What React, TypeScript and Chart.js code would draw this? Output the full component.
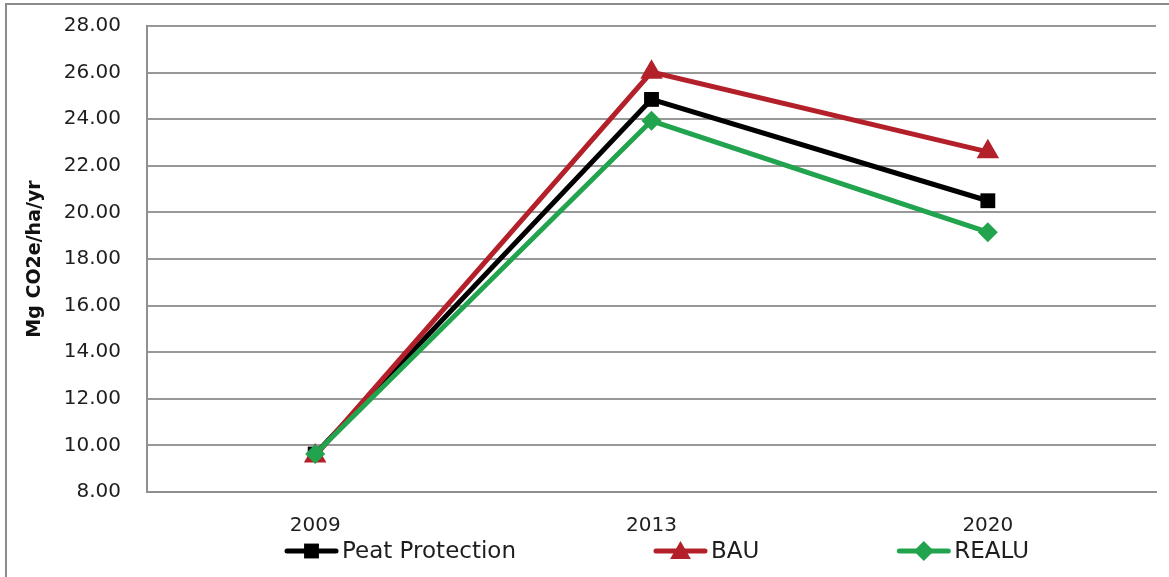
import React, { useEffect, useRef } from "react";
import { Chart, registerables } from "chart.js";

Chart.register(...registerables);

const categories = ["2009", "2013", "2020"];
const peatProtection = [9.63, 24.85, 20.5];
const bau = [9.55, 26.02, 22.6];
const realu = [9.63, 23.93, 19.15];
const yTicksMin = 8;
const yTicksMax = 28;
const yTickStep = 2;
const yTitle = "Mg CO2e/ha/yr";
const seriesNames = ["Peat Protection", "BAU", "REALU"];
const seriesColors = ["#000000", "#B3202A", "#22A34E"];
const seriesMarkers = ["rect", "triangle", "rectRot"];

const FONT = "'DejaVu Sans', sans-serif";

function drawMarker(ctx: CanvasRenderingContext2D, kind: string, x: number, y: number, r: number) {
  ctx.beginPath();
  if (kind === "rect") {
    const s = Math.SQRT1_2 * r;
    ctx.rect(x - s, y - s, 2 * s, 2 * s);
  } else if (kind === "triangle") {
    ctx.moveTo(x, y - r);
    ctx.lineTo(x + r * Math.sin((2 * Math.PI) / 3), y - r * Math.cos((2 * Math.PI) / 3));
    ctx.lineTo(x + r * Math.sin((4 * Math.PI) / 3), y - r * Math.cos((4 * Math.PI) / 3));
    ctx.closePath();
  } else {
    ctx.moveTo(x - r, y);
    ctx.lineTo(x, y - r);
    ctx.lineTo(x + r, y);
    ctx.lineTo(x, y + r);
    ctx.closePath();
  }
  ctx.fill();
}

const customLegend = {
  id: "customLegend",
  afterDraw(chart: any) {
    const ctx: CanvasRenderingContext2D = chart.ctx;
    ctx.save();
    // outer frame
    ctx.strokeStyle = "#8c8c8c";
    ctx.lineWidth = 2;
    ctx.beginPath();
    ctx.moveTo(6, chart.height + 2);
    ctx.lineTo(6, 4);
    ctx.lineTo(chart.width + 2, 4);
    ctx.stroke();

    // legend
    const y = 551;
    let x = 285;
    const lineLen = 53;
    ctx.font = `23px ${FONT}`;
    ctx.textBaseline = "middle";
    ctx.textAlign = "left";
    chart.data.datasets.forEach((ds: any, i: number) => {
      const color = seriesColors[i];
      ctx.strokeStyle = color;
      ctx.fillStyle = color;
      ctx.lineWidth = 5;
      ctx.lineCap = "round";
      ctx.beginPath();
      ctx.moveTo(x + 2, y);
      ctx.lineTo(x + lineLen - 2, y);
      ctx.stroke();
      const r = i === 0 ? 10.5 : i === 1 ? 12 : 10;
      drawMarker(ctx, seriesMarkers[i], x + lineLen / 2, y + (i === 1 ? 2 : 0), r);
      ctx.fillStyle = "#1e1e1e";
      const label = ds.label;
      ctx.fillText(label, x + lineLen + 4, y + 1);
      const w = ctx.measureText(label).width;
      x = x + lineLen + 4 + w + 138;
    });
    ctx.restore();
  },
};

export default function App() {
  const canvasRef = useRef<HTMLCanvasElement | null>(null);

  useEffect(() => {
    const canvas = canvasRef.current;
    if (!canvas) return;
    const seriesData = [peatProtection, bau, realu];
    const radii = [10.5, 13, 10];
    const chart = new Chart(canvas, {
      type: "line",
      data: {
        labels: categories,
        datasets: seriesData.map((d, i) => ({
          label: seriesNames[i],
          data: d,
          borderColor: seriesColors[i],
          backgroundColor: seriesColors[i],
          pointBackgroundColor: seriesColors[i],
          pointBorderColor: seriesColors[i],
          pointBorderWidth: 0,
          pointStyle: seriesMarkers[i] as any,
          pointRadius: radii[i],
          borderWidth: 5,
          tension: 0,
          fill: false,
          order: 3 - i,
          clip: false as any,
        })),
      },
      options: {
        animation: false,
        responsive: false,
        maintainAspectRatio: false,
        events: [],
        layout: { padding: { top: 26, right: 10, bottom: 0, left: 0 } },
        plugins: {
          legend: { display: false },
          tooltip: { enabled: false },
          title: { display: false },
        },
        scales: {
          x: {
            type: "category",
            offset: true,
            grid: { display: false, drawTicks: false },
            border: { display: true, color: "#8f8f8f", width: 2 },
            ticks: {
              font: { family: FONT, size: 20 },
              color: "#1e1e1e",
              padding: 22,
              maxRotation: 0,
            },
            afterFit: (s: any) => {
              s.height = 85;
              s.paddingLeft = 0;
              s.paddingRight = 0;
            },
          },
          y: {
            min: yTicksMin,
            max: yTicksMax,
            grid: { color: "#989898", lineWidth: 2, drawTicks: false },
            border: { display: true, color: "#8f8f8f", width: 2 },
            ticks: {
              stepSize: yTickStep,
              font: { family: FONT, size: 20 },
              color: "#1e1e1e",
              padding: 26,
              callback: (v: any) => Number(v).toFixed(2),
            },
            title: {
              display: true,
              text: yTitle,
              font: { family: FONT, size: 19, weight: "bold" },
              color: "#111",
              padding: { top: 24, bottom: 0 },
            },
            afterFit: (s: any) => {
              s.width = 147;
              s.paddingTop = 0;
              s.paddingBottom = 0;
            },
          },
        },
      },
      plugins: [customLegend],
    });
    return () => chart.destroy();
  }, []);

  return (
    <div style={{ position: "fixed", left: 0, top: 0, width: 1169, height: 577, background: "#fff" }}>
      <canvas ref={canvasRef} width={1169} height={577} style={{ width: 1169, height: 577, display: "block" }} />
    </div>
  );
}
